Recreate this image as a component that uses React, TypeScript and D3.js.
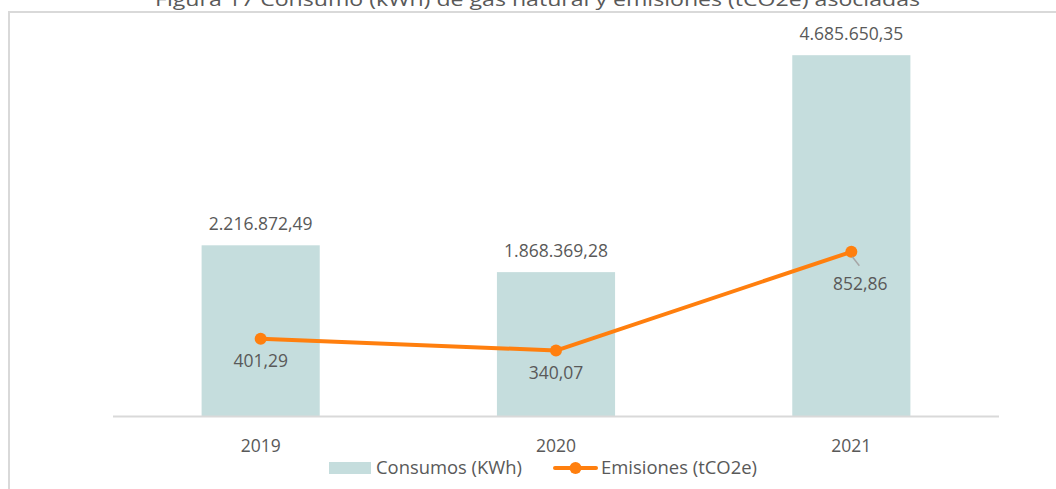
import React from "react";
import * as d3 from "d3";

const categories = ["2019", "2020", "2021"];
const consumos = [2216872.49, 1868369.28, 4685650.35];
const emisiones = [401.29, 340.07, 852.86];
const consumosLabels = ["2.216.872,49", "1.868.369,28", "4.685.650,35"];
const emisionesLabels = ["401,29", "340,07", "852,86"];
const title = "Figura 17 Consumo (kWh) de gas natural y emisiones (tCO2e) asociadas";
const legendNames = ["Consumos (KWh)", "Emisiones (tCO2e)"];

const W = 1056;
const H = 489;
const BAR = "#C5DDDD";
const LINE = "#FF7F0E";
const TXT = "#595959";
const FONT = "'Open Sans', 'Noto Sans', sans-serif";
const FS = 17.5;

export default function App() {
  const x = d3.scaleBand<string>().domain(categories).range([113, 999]).paddingInner(0.6).paddingOuter(0.3);
  const yBar = d3.scaleLinear().domain([0, 5000000]).range([416, 31]);
  const yLine = d3.scaleLinear().domain([0, 2000]).range([416, 31]);
  const cx = (c: string) => (x(c) as number) + x.bandwidth() / 2;
  const linePath = d3
    .line<number>()
    .x((_, i) => cx(categories[i]))
    .y((d) => yLine(d))(emisiones) as string;

  return (
    <svg
      width={W}
      height={H}
      style={{ position: "absolute", left: 0, top: 0, background: "#fff" }}
      fontFamily={FONT}
    >
      <rect x={0} y={0} width={W} height={H} fill="#fff" />
      <text x={537.5} y={6} textAnchor="middle" fontSize={18} fill={TXT} textLength={765} lengthAdjust="spacingAndGlyphs">
        {title}
      </text>
      {/* chart border */}
      <path d={`M9,${H} L9,12 L${W + 2},12`} fill="none" stroke="#D9D9D9" strokeWidth={2} />

      {/* bars */}
      {categories.map((c, i) => (
        <rect key={c} x={x(c)} y={yBar(consumos[i])} width={x.bandwidth()} height={yBar(0) - yBar(consumos[i])} fill={BAR} />
      ))}
      {/* axis line */}
      <line x1={113} x2={999} y1={yBar(0) + 0.5} y2={yBar(0) + 0.5} stroke="#D9D9D9" strokeWidth={2} />

      {/* category labels */}
      {categories.map((c) => (
        <text key={c} x={cx(c)} y={452} textAnchor="middle" fontSize={FS} fill={TXT}>
          {c}
        </text>
      ))}

      {/* bar labels */}
      {categories.map((c, i) => (
        <text key={c} x={cx(c)} y={yBar(consumos[i]) - 15} textAnchor="middle" fontSize={FS} fill={TXT}>
          {consumosLabels[i]}
        </text>
      ))}

      {/* line */}
      <path d={linePath} fill="none" stroke={LINE} strokeWidth={4} strokeLinejoin="round" strokeLinecap="round" />
      {categories.map((c, i) => (
        <circle key={c} cx={cx(c)} cy={yLine(emisiones[i])} r={6} fill={LINE} />
      ))}

      {/* line labels */}
      {categories.map((c, i) => {
        const px = cx(c);
        const py = yLine(emisiones[i]);
        if (i === 2) {
          return (
            <g key={c}>
              <line x1={px + 1} y1={py + 5} x2={px + 8} y2={py + 14} stroke="#A6A6A6" strokeWidth={1.5} />
              <text x={px + 9} y={py + 38} textAnchor="middle" fontSize={FS} fill={TXT}>
                {emisionesLabels[i]}
              </text>
            </g>
          );
        }
        return (
          <text key={c} x={px} y={py + 28} textAnchor="middle" fontSize={FS} fill={TXT}>
            {emisionesLabels[i]}
          </text>
        );
      })}

      {/* legend */}
      <rect x={329} y={462} width={42} height={12} fill={BAR} />
      <text x={376} y={474} fontSize={FS} fill={TXT} textLength={146} lengthAdjust="spacingAndGlyphs">
        {legendNames[0]}
      </text>
      <line x1={555} x2={596} y1={468} y2={468} stroke={LINE} strokeWidth={4} strokeLinecap="round" />
      <circle cx={575.5} cy={468} r={6} fill={LINE} />
      <text x={601} y={474} fontSize={FS} fill={TXT} textLength={156} lengthAdjust="spacingAndGlyphs">
        {legendNames[1]}
      </text>
    </svg>
  );
}
